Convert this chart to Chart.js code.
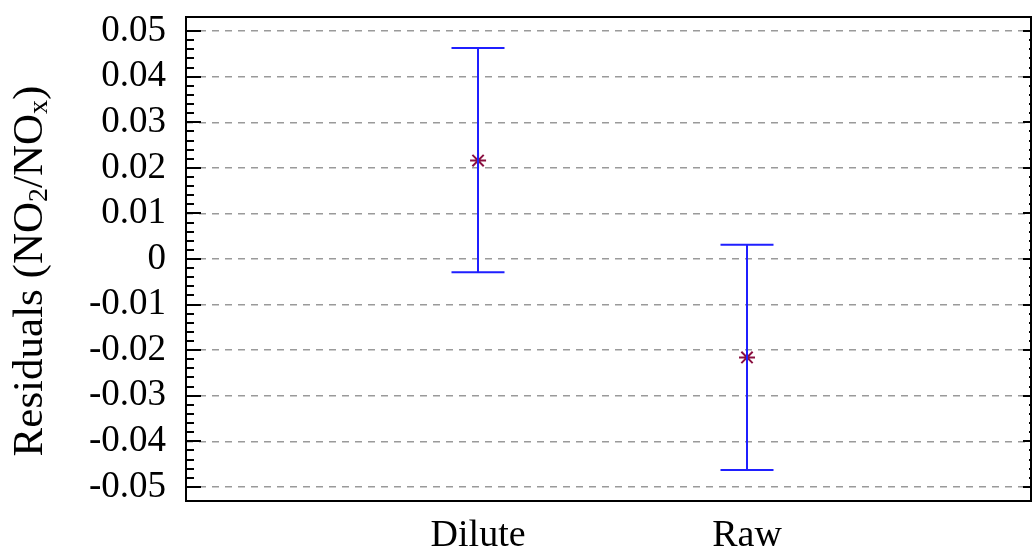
<!DOCTYPE html>
<html>
<head>
<meta charset="utf-8">
<script src="https://cdn.jsdelivr.net/npm/chart.js@4/dist/chart.umd.min.js"></script>
<style>
html,body{margin:0;padding:0;background:#fff;}
#wrap{width:1032px;height:550px;position:relative;}
</style>
</head>
<body>
<div id="wrap"><canvas id="c" width="1032" height="550"></canvas></div>
<script>
// ---- data ----
const categories = ["Dilute", "Raw"];
const xPositions = [1, 2];
const means = [0.0216, -0.0216];
const upper = [0.0463, 0.0031];
const lower = [-0.0029, -0.0463];
const yTicks = [-0.05, -0.04, -0.03, -0.02, -0.01, 0, 0.01, 0.02, 0.03, 0.04, 0.05];
const yTickLabels = ["-0.05", "-0.04", "-0.03", "-0.02", "-0.01", "0", "0.01", "0.02", "0.03", "0.04", "0.05"];
const yMin = -0.0531, yMax = 0.0531;
const xMin = -0.086, xMax = 3.056;

const FONT = "'Liberation Serif', 'Times New Roman', serif";

const framePlugin = {
  id: 'frame',
  afterDatasetsDraw(chart) {
    const ctx = chart.ctx;
    const xs = chart.scales.x, ys = chart.scales.y;
    ctx.save();
    ctx.strokeStyle = '#1f1fff';
    ctx.lineWidth = 2;
    for (let i = 0; i < xPositions.length; i++) {
      const px = Math.round(xs.getPixelForValue(xPositions[i]));
      const pu = ys.getPixelForValue(upper[i]);
      const pl = ys.getPixelForValue(lower[i]);
      ctx.beginPath();
      ctx.moveTo(px, pu); ctx.lineTo(px, pl);
      ctx.moveTo(px - 26.5, pu); ctx.lineTo(px + 26.5, pu);
      ctx.moveTo(px - 26.5, pl); ctx.lineTo(px + 26.5, pl);
      ctx.stroke();
    }
    ctx.restore();
  },
  afterDraw(chart) {
    const ctx = chart.ctx, ca = chart.chartArea;
    const ys = chart.scales.y;
    ctx.save();
    ctx.strokeStyle = '#000';
    ctx.lineWidth = 2;
    ctx.strokeRect(ca.left, ca.top, ca.right - ca.left, ca.bottom - ca.top);
    ctx.beginPath();
    for (let k = -25; k <= 25; k++) {
      const v = k * 0.002;
      const py = Math.round(ys.getPixelForValue(v));
      const major = (k % 5 === 0);
      const lenL = major ? 15 : 8;
      const lenR = major ? 8 : 2;
      ctx.moveTo(ca.left, py); ctx.lineTo(ca.left + lenL, py);
      ctx.moveTo(ca.right, py); ctx.lineTo(ca.right - lenR, py);
    }
    ctx.stroke();
    // y title with subscripts
    const cx = 31, cy = 271;
    const big = "43px " + FONT, small = "28px " + FONT;
    const parts = [["Residuals (NO", big, 0], ["2", small, 9], ["/NO", big, 0], ["x", small, 9], [")", big, 0]];
    let total = 0;
    for (const p of parts) { ctx.font = p[1]; total += ctx.measureText(p[0]).width; }
    ctx.translate(cx, cy);
    ctx.rotate(-Math.PI / 2);
    ctx.fillStyle = '#000';
    ctx.textBaseline = 'middle';
    ctx.textAlign = 'left';
    let x = -total / 2;
    for (const p of parts) {
      ctx.font = p[1];
      ctx.fillText(p[0], x, p[2]);
      x += ctx.measureText(p[0]).width;
    }
    ctx.restore();
  }
};

new Chart(document.getElementById('c'), {
  type: 'scatter',
  data: {
    datasets: [{
      data: xPositions.map((x, i) => ({x: x, y: means[i]})),
      pointStyle: 'star',
      radius: 8,
      borderColor: '#8a1040',
      backgroundColor: '#8a1040',
      borderWidth: 2,
      pointHoverRadius: 8
    }]
  },
  options: {
    responsive: false,
    animation: false,
    events: [],
    layout: {autoPadding: false, padding: {left: 0, right: 1, top: 17, bottom: 0}},
    plugins: {legend: {display: false}, tooltip: {enabled: false}},
    scales: {
      x: {
        type: 'linear',
        min: xMin, max: xMax,
        afterBuildTicks(s) { s.ticks = xPositions.map(v => ({value: v})); },
        afterFit(s) { s.height = 49; },
        grid: {display: false, drawTicks: false},
        border: {display: false},
        ticks: {
          autoSkip: false,
          padding: 12,
          color: '#000',
          font: {family: FONT, size: 38},
          maxRotation: 0,
          callback: (v) => { const i = xPositions.indexOf(v); return i >= 0 ? categories[i] : ''; }
        }
      },
      y: {
        type: 'linear',
        min: yMin, max: yMax,
        afterBuildTicks(s) { s.ticks = yTicks.map(v => ({value: v})); },
        afterFit(s) { s.width = 186; s.paddingTop = 0; s.paddingBottom = 0; },
        grid: {
          drawTicks: false,
          color: '#9a9a9a',
          lineWidth: 1.5
        },
        border: {display: false, dash: [7, 6]},
        ticks: {
          autoSkip: false,
          padding: 20,
          color: '#000',
          font: {family: FONT, size: 37, lineHeight: 0.2},
          callback: (v) => { const i = yTicks.findIndex(t => Math.abs(t - v) < 1e-9); return i >= 0 ? yTickLabels[i] : ''; }
        }
      }
    }
  },
  plugins: [framePlugin]
});
</script>
</body>
</html>
